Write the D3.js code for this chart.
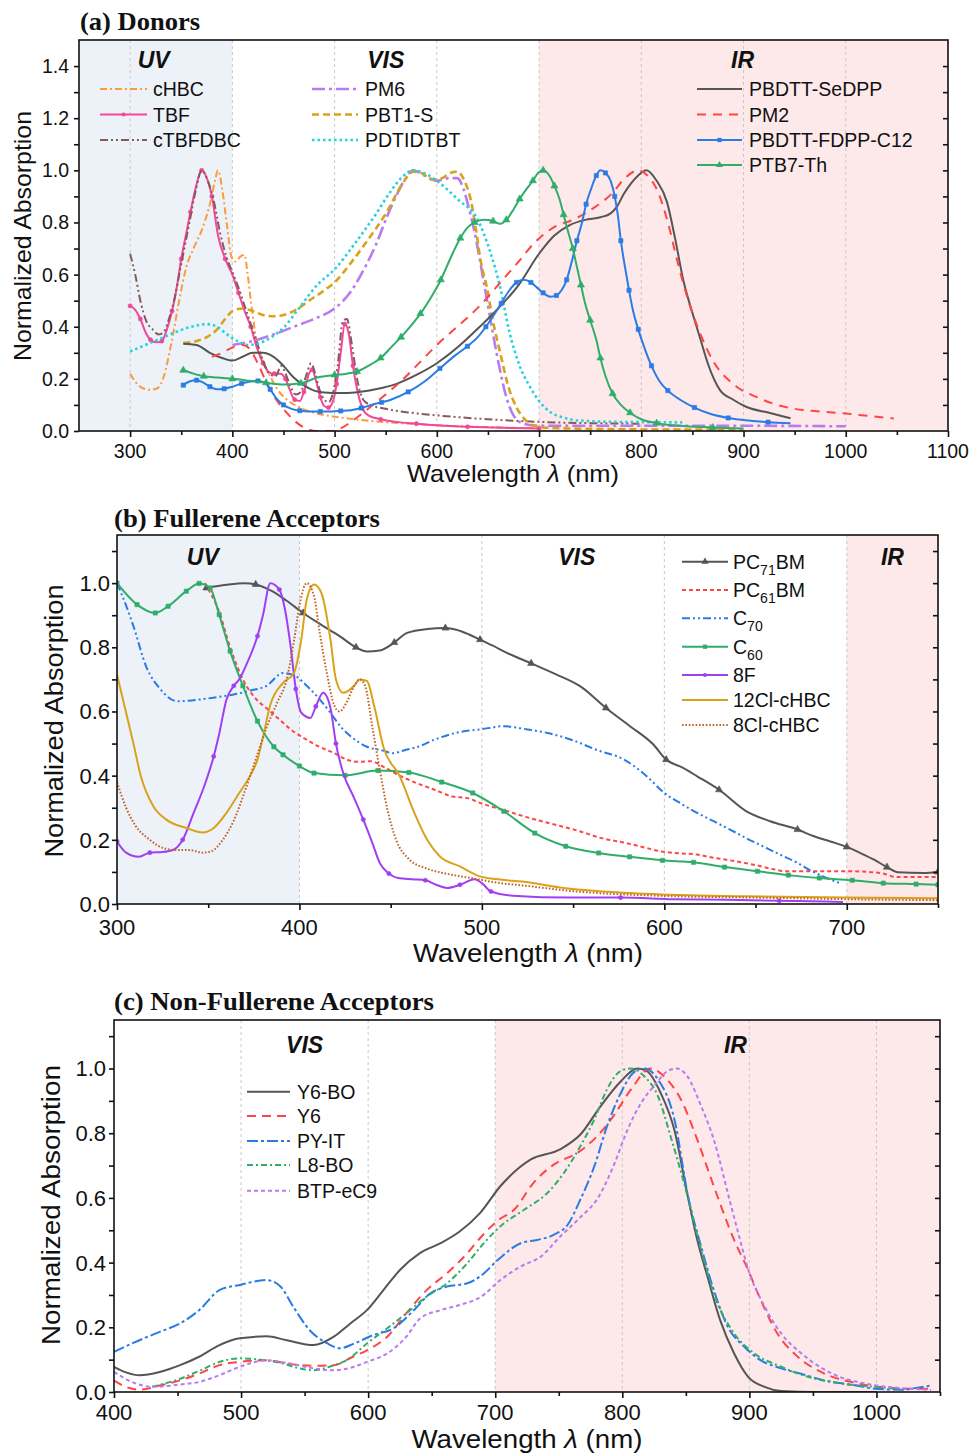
<!DOCTYPE html>
<html>
<head>
<meta charset="utf-8">
<script src="https://cdn.jsdelivr.net/npm/d3@7"></script>
<style>
body { margin: 0; background: #fff; }
text { fill: #111; }
</style>
</head>
<body>
<svg id="fig" width="971" height="1456"></svg>
<script>
// ---------- panel (a) donors : [wavelength nm, normalized absorption] ----------
const cHBC = [[300,0.22],[305,0.19],[312,0.165],[320,0.158],[327,0.165],[333,0.21],[340,0.33],[348,0.5],[355,0.63],[362,0.7],[370,0.77],[378,0.87],[383,0.96],[386,1.0],[390,0.93],[395,0.78],[399,0.67],[403,0.65],[408,0.67],[412,0.675],[415,0.6],[419,0.47],[424,0.34],[430,0.27],[437,0.21],[445,0.155],[455,0.115],[466,0.09],[480,0.07],[500,0.055],[520,0.045],[545,0.035],[575,0.028],[600,0.022],[650,0.015],[700,0.01]];
const TBF = [[300,0.48],[305,0.465],[310,0.43],[315,0.38],[320,0.35],[326,0.34],[331,0.345],[336,0.39],[341,0.46],[346,0.56],[350,0.66],[355,0.76],[359,0.84],[364,0.93],[370,1.0],[375,0.97],[380,0.9],[386,0.75],[393,0.66],[400,0.6],[406,0.53],[412,0.46],[418,0.4],[424,0.32],[430,0.26],[436,0.225],[441,0.22],[447,0.22],[452,0.2],[456,0.16],[461,0.12],[466,0.115],[470,0.15],[475,0.22],[478,0.235],[482,0.19],[486,0.13],[490,0.095],[494,0.09],[498,0.11],[502,0.18],[506,0.3],[510,0.41],[514,0.37],[518,0.25],[522,0.16],[527,0.09],[533,0.06],[545,0.045],[560,0.035],[580,0.028],[600,0.022],[630,0.016],[665,0.012],[700,0.01]];
const cTBFDBC = [[300,0.68],[305,0.6],[310,0.5],[316,0.42],[322,0.39],[328,0.37],[333,0.38],[338,0.43],[343,0.5],[348,0.6],[353,0.7],[358,0.8],[364,0.92],[370,1.0],[376,0.96],[382,0.88],[388,0.76],[394,0.67],[400,0.61],[406,0.55],[412,0.48],[418,0.41],[424,0.34],[430,0.27],[436,0.22],[442,0.21],[448,0.25],[452,0.22],[457,0.17],[462,0.14],[467,0.15],[472,0.21],[477,0.26],[481,0.22],[486,0.15],[490,0.12],[494,0.11],[498,0.14],[503,0.25],[508,0.42],[512,0.43],[517,0.33],[522,0.2],[528,0.12],[535,0.1],[550,0.085],[575,0.07],[600,0.06],[650,0.045],[700,0.035],[750,0.03],[800,0.028]];
const PM6 = [[400,0.33],[420,0.345],[440,0.37],[460,0.4],[480,0.43],[500,0.47],[515,0.53],[530,0.63],[541,0.72],[551,0.82],[560,0.9],[568,0.96],[577,1.0],[588,0.98],[600,0.96],[612,0.97],[620,0.97],[626,0.93],[631,0.86],[636,0.78],[641,0.68],[646,0.57],[651,0.46],[656,0.35],[662,0.23],[668,0.13],[675,0.06],[685,0.028],[700,0.02],[800,0.02],[900,0.02],[1000,0.018]];
const PBT1S = [[352,0.337],[365,0.345],[375,0.36],[385,0.39],[393,0.43],[400,0.46],[410,0.47],[420,0.46],[430,0.445],[440,0.44],[450,0.445],[460,0.46],[475,0.5],[490,0.54],[500,0.57],[515,0.64],[532,0.73],[551,0.84],[565,0.94],[577,0.995],[585,0.99],[595,0.965],[605,0.97],[613,0.99],[620,0.995],[627,0.96],[633,0.89],[638,0.78],[643,0.65],[649,0.55],[655,0.42],[662,0.3],[670,0.17],[678,0.09],[686,0.045],[694,0.022],[710,0.012],[750,0.008],[800,0.006],[900,0.005]];
const PDTIDTBT = [[300,0.305],[315,0.33],[330,0.355],[345,0.38],[360,0.4],[375,0.41],[385,0.4],[395,0.37],[405,0.345],[415,0.33],[425,0.335],[438,0.36],[451,0.4],[465,0.47],[483,0.56],[500,0.62],[520,0.72],[540,0.83],[555,0.92],[565,0.97],[577,1.0],[590,0.985],[600,0.96],[620,0.89],[640,0.81],[652,0.69],[662,0.55],[671,0.38],[681,0.25],[691,0.17],[700,0.115],[710,0.075],[725,0.05],[740,0.04],[775,0.035],[840,0.033]];
const SeDPP = [[352,0.335],[365,0.33],[378,0.3],[390,0.28],[400,0.27],[410,0.285],[420,0.3],[430,0.3],[440,0.285],[450,0.25],[460,0.205],[470,0.175],[480,0.155],[490,0.148],[505,0.146],[520,0.148],[540,0.16],[560,0.18],[580,0.215],[600,0.26],[620,0.32],[642,0.4],[660,0.47],[680,0.56],[700,0.68],[715,0.75],[730,0.79],[745,0.81],[760,0.82],[770,0.835],[776,0.86],[783,0.91],[790,0.95],[797,0.98],[805,1.0],[815,0.96],[825,0.88],[833,0.74],[841,0.58],[851,0.44],[858,0.35],[865,0.26],[871,0.2],[877,0.157],[890,0.12],[903,0.092],[925,0.07],[946,0.049]];
const PM2 = [[380,0.285],[390,0.3],[400,0.32],[410,0.33],[418,0.31],[426,0.25],[434,0.18],[443,0.12],[452,0.075],[462,0.035],[472,0.01],[482,0.0],[497,0.0],[506,0.01],[516,0.035],[528,0.07],[542,0.115],[556,0.16],[570,0.21],[585,0.27],[600,0.33],[620,0.4],[642,0.48],[660,0.56],[680,0.65],[695,0.72],[716,0.785],[733,0.81],[755,0.86],[771,0.91],[784,0.97],[797,1.0],[806,0.98],[816,0.92],[826,0.8],[836,0.64],[846,0.5],[857,0.38],[870,0.27],[890,0.18],[913,0.13],[943,0.09],[1000,0.067],[1047,0.048]];
const FDPP = [[352,0.176],[358,0.19],[365,0.195],[372,0.185],[378,0.17],[385,0.16],[392,0.162],[400,0.17],[409,0.182],[418,0.19],[425,0.192],[432,0.185],[437,0.16],[443,0.125],[450,0.1],[458,0.085],[466,0.078],[474,0.075],[486,0.075],[497,0.075],[506,0.077],[516,0.08],[526,0.088],[536,0.1],[546,0.11],[555,0.12],[572,0.15],[588,0.19],[603,0.24],[618,0.29],[630,0.325],[640,0.36],[648,0.4],[655,0.44],[663,0.49],[671,0.54],[678,0.57],[685,0.58],[692,0.57],[698,0.55],[704,0.53],[711,0.515],[717,0.52],[722,0.54],[727,0.58],[732,0.65],[737,0.73],[742,0.8],[746,0.87],[751,0.93],[756,0.98],[760,1.0],[765,0.99],[770,0.96],[774,0.9],[777,0.83],[780,0.73],[784,0.63],[788,0.54],[792,0.46],[797,0.39],[803,0.32],[810,0.25],[818,0.19],[826,0.155],[838,0.12],[852,0.09],[868,0.065],[885,0.05],[905,0.04],[924,0.034],[946,0.03]];
const PTB7Th = [[352,0.233],[362,0.22],[372,0.21],[386,0.205],[400,0.2],[416,0.193],[433,0.185],[450,0.178],[467,0.183],[483,0.205],[500,0.215],[512,0.22],[522,0.228],[533,0.25],[545,0.28],[555,0.32],[565,0.36],[575,0.405],[584,0.45],[594,0.51],[604,0.58],[613,0.66],[623,0.74],[630,0.78],[637,0.8],[646,0.81],[655,0.805],[662,0.795],[668,0.81],[675,0.85],[681,0.89],[688,0.93],[694,0.96],[699,0.99],[704,1.0],[710,0.98],[715,0.94],[720,0.89],[724,0.83],[728,0.77],[733,0.7],[737,0.63],[741,0.56],[745,0.49],[750,0.425],[756,0.35],[760,0.28],[765,0.21],[772,0.143],[780,0.1],[789,0.07],[800,0.045],[815,0.03],[838,0.02],[870,0.013],[900,0.01]];

// ---------- panel (b) fullerene acceptors ----------
const PC71BM = [[349,0.985],[360,0.995],[370,1.0],[376,0.996],[385,0.975],[393,0.945],[402,0.907],[412,0.87],[422,0.835],[431,0.8],[437,0.787],[444,0.79],[452,0.815],[459,0.845],[470,0.857],[480,0.86],[486,0.855],[493,0.84],[499,0.824],[506,0.805],[514,0.782],[527,0.75],[541,0.715],[554,0.678],[568,0.611],[581,0.555],[594,0.497],[601,0.45],[610,0.425],[618,0.398],[630,0.356],[645,0.289],[658,0.258],[673,0.232],[682,0.211],[691,0.195],[700,0.178],[707,0.16],[715,0.138],[722,0.115],[728,0.099],[742,0.097],[750,0.1]];
const PC61BM = [[348,1.0],[356,0.91],[362,0.8],[369,0.7],[376,0.64],[382,0.61],[389,0.575],[395,0.545],[403,0.515],[411,0.49],[419,0.47],[426,0.45],[432,0.443],[439,0.445],[447,0.425],[455,0.4],[465,0.375],[474,0.356],[484,0.335],[492,0.33],[499,0.315],[514,0.289],[525,0.27],[536,0.253],[545,0.24],[554,0.226],[565,0.206],[579,0.19],[590,0.175],[598,0.164],[608,0.158],[618,0.154],[626,0.145],[634,0.138],[642,0.13],[651,0.12],[660,0.108],[667,0.102],[685,0.102],[700,0.102],[712,0.1],[720,0.095],[727,0.084],[740,0.084],[750,0.084]];
const C70 = [[300,1.0],[305,0.93],[309,0.866],[316,0.74],[324,0.668],[333,0.632],[345,0.637],[355,0.645],[364,0.653],[373,0.665],[382,0.68],[391,0.72],[398,0.71],[404,0.68],[410,0.645],[417,0.596],[423,0.55],[428,0.523],[437,0.49],[446,0.478],[451,0.47],[458,0.48],[465,0.49],[474,0.512],[487,0.535],[499,0.544],[512,0.554],[524,0.545],[536,0.533],[550,0.51],[563,0.48],[578,0.45],[590,0.4],[600,0.346],[610,0.31],[618,0.284],[627,0.258],[636,0.232],[645,0.205],[654,0.18],[663,0.155],[673,0.128],[680,0.105],[687,0.086],[697,0.063]];
const C60 = [[300,1.0],[311,0.933],[321,0.907],[328,0.928],[338,0.975],[345,0.999],[351,0.985],[356,0.902],[362,0.788],[369,0.68],[377,0.57],[386,0.49],[391,0.465],[400,0.43],[408,0.408],[425,0.401],[443,0.416],[460,0.41],[478,0.38],[495,0.346],[512,0.289],[529,0.221],[546,0.18],[564,0.159],[581,0.147],[599,0.136],[616,0.13],[633,0.115],[651,0.102],[668,0.09],[685,0.081],[703,0.074],[720,0.065],[738,0.062],[750,0.06]];
const F8 = [[300,0.195],[305,0.16],[312,0.147],[318,0.16],[325,0.162],[331,0.169],[336,0.2],[342,0.284],[348,0.37],[353,0.46],[356,0.53],[360,0.637],[364,0.68],[367,0.7],[372,0.76],[377,0.835],[380,0.9],[384,1.0],[389,0.98],[392,0.92],[395,0.81],[398,0.67],[401,0.596],[406,0.58],[409,0.616],[413,0.658],[417,0.611],[420,0.5],[424,0.408],[430,0.33],[435,0.263],[440,0.19],[444,0.128],[449,0.095],[454,0.081],[462,0.077],[469,0.074],[475,0.06],[481,0.05],[488,0.06],[496,0.077],[500,0.065],[505,0.039],[517,0.026],[548,0.02],[576,0.02],[605,0.015],[634,0.013],[663,0.01],[693,0.007],[698,0.006]];
const Cl12cHBC = [[300,0.715],[305,0.596],[309,0.5],[313,0.4],[320,0.304],[327,0.263],[338,0.237],[347,0.223],[353,0.237],[360,0.284],[367,0.346],[373,0.4],[377,0.45],[380,0.52],[384,0.62],[391,0.689],[397,0.72],[401,0.824],[404,0.949],[408,0.996],[412,0.97],[417,0.824],[420,0.7],[424,0.658],[430,0.68],[433,0.7],[437,0.695],[441,0.616],[446,0.49],[455,0.398],[463,0.284],[470,0.2],[477,0.148],[488,0.117],[499,0.086],[510,0.076],[522,0.07],[545,0.05],[590,0.032],[645,0.024],[700,0.02],[750,0.018]];
const Cl8cHBC = [[300,0.38],[305,0.3],[310,0.245],[318,0.2],[325,0.175],[333,0.168],[340,0.168],[347,0.16],[352,0.165],[358,0.2],[364,0.26],[370,0.35],[376,0.45],[382,0.55],[388,0.63],[393,0.7],[397,0.82],[400,0.93],[404,1.0],[408,0.96],[411,0.85],[415,0.72],[419,0.62],[422,0.6],[426,0.63],[430,0.68],[433,0.7],[436,0.68],[440,0.55],[444,0.42],[448,0.3],[453,0.2],[460,0.14],[470,0.11],[480,0.095],[495,0.08],[510,0.065],[522,0.058],[550,0.04],[600,0.025],[650,0.02],[700,0.015],[750,0.012]];

// ---------- panel (c) non-fullerene acceptors ----------
const Y6BO = [[400,0.078],[410,0.06],[420,0.052],[436,0.062],[452,0.083],[467,0.109],[483,0.145],[499,0.166],[520,0.172],[536,0.16],[557,0.145],[573,0.171],[586,0.212],[599,0.253],[612,0.315],[625,0.377],[641,0.43],[657,0.46],[672,0.496],[688,0.553],[704,0.636],[728,0.719],[751,0.75],[767,0.796],[783,0.884],[798,0.957],[812,1.0],[820,0.99],[830,0.926],[841,0.81],[851,0.615],[859,0.47],[867,0.357],[877,0.222],[888,0.119],[899,0.047],[912,0.016],[925,0.003],[950,0.0],[1000,0.0]];
const Y6 = [[400,0.035],[410,0.015],[420,0.007],[436,0.02],[452,0.036],[467,0.057],[483,0.083],[499,0.093],[520,0.098],[536,0.088],[557,0.081],[573,0.083],[588,0.109],[599,0.129],[615,0.171],[630,0.243],[646,0.315],[662,0.367],[678,0.429],[689,0.48],[702,0.53],[715,0.564],[730,0.646],[746,0.703],[765,0.74],[780,0.79],[793,0.853],[807,0.936],[822,1.0],[835,0.967],[846,0.905],[859,0.78],[872,0.636],[888,0.47],[899,0.377],[909,0.284],[922,0.181],[938,0.109],[959,0.057],[983,0.028],[1001,0.016],[1020,0.01],[1043,0.01]];
const PYIT = [[400,0.124],[420,0.16],[436,0.186],[452,0.212],[467,0.253],[483,0.315],[499,0.331],[520,0.346],[531,0.326],[541,0.264],[554,0.191],[568,0.15],[578,0.135],[589,0.15],[604,0.176],[620,0.197],[636,0.253],[649,0.305],[662,0.326],[678,0.336],[689,0.36],[702,0.408],[720,0.46],[733,0.47],[746,0.486],[757,0.517],[767,0.595],[778,0.698],[788,0.822],[799,0.926],[809,0.988],[817,1.0],[828,0.967],[841,0.843],[852,0.6],[862,0.45],[872,0.315],[883,0.202],[896,0.14],[909,0.098],[925,0.073],[940,0.057],[959,0.036],[983,0.021],[999,0.01],[1020,0.007],[1030,0.012],[1043,0.02]];
const L8BO = [[430,0.016],[452,0.041],[468,0.067],[483,0.093],[499,0.104],[515,0.1],[531,0.09],[546,0.073],[557,0.067],[573,0.083],[583,0.098],[599,0.15],[615,0.197],[630,0.243],[646,0.295],[662,0.336],[678,0.398],[691,0.46],[704,0.512],[723,0.564],[741,0.615],[754,0.677],[767,0.76],[778,0.843],[788,0.936],[799,0.993],[807,1.0],[817,0.977],[828,0.915],[838,0.79],[849,0.64],[862,0.44],[872,0.305],[888,0.181],[904,0.119],[925,0.078],[946,0.047],[972,0.026],[999,0.016],[1020,0.01]];
const BTPeC9 = [[400,0.062],[414,0.031],[431,0.016],[452,0.023],[467,0.031],[483,0.052],[499,0.078],[520,0.098],[536,0.09],[557,0.073],[573,0.067],[589,0.078],[599,0.093],[615,0.119],[630,0.171],[641,0.228],[657,0.253],[672,0.269],[689,0.295],[704,0.346],[720,0.388],[736,0.419],[751,0.48],[767,0.54],[780,0.595],[793,0.698],[804,0.81],[815,0.895],[825,0.946],[836,0.993],[843,1.0],[851,0.977],[862,0.884],[872,0.78],[884,0.6],[892,0.48],[899,0.38],[912,0.264],[925,0.181],[941,0.119],[965,0.057],[991,0.026],[1017,0.013],[1043,0.007]];

// ---------- ticks ----------
const xTicksA = [300,400,500,600,700,800,900,1000,1100];
const xMinorA = [350,450,550,650,750,850,950,1050];
const yTicksA = [0,0.2,0.4,0.6,0.8,1.0,1.2,1.4];
const yMinorA = [0.1,0.3,0.5,0.7,0.9,1.1,1.3];
const xTicksB = [300,400,500,600,700];
const xMinorB = [350,450,550,650,750];
const xTicksC = [400,500,600,700,800,900,1000];
const xMinorC = [450,550,650,750,850,950,1050];
const yTicksBC = [0,0.2,0.4,0.6,0.8,1.0];
const yMinorBC = [0.1,0.3,0.5,0.7,0.9,1.1];

const SANS = "'Liberation Sans', Arial, sans-serif";
const SERIF = "'Liberation Serif', 'Times New Roman', serif";
const BLUE_BG = "#edf2f9", PINK_BG = "#fde9ea";
const GRAY = "#555555", RED = "#ff4545", BLUEL = "#2a7be4", GREEN = "#2fad69",
      PURPLE = "#b77cf0", GOLD = "#daa21a", ORANGE = "#fb9a3f", PINK = "#f2479b",
      BROWN = "#875a58", CYAN = "#22d2dd", VIOLET = "#a03ff2", RUST = "#c0652a";

const svg = d3.select("#fig").style("font-family", SANS);

const panels = [
  {id:"a", left:79, top:40, right:948, bottom:431, xDomain:[250,1100], yDomain:[0,1.5],
   xMajor:xTicksA, xMinor:xMinorA, yMajor:yTicksA, yMinor:yMinorA, rightTicks:yTicksA.concat(yMinorA).filter(v=>v>0),
   tickFont:19.5, xTickY:458, yTickRight:69,
   bands:[[250,400,BLUE_BG],[700,1100,PINK_BG]], grid:[300,400,500,600,700,800,900,1000],
   regions:[["UV",323],["VIS",550],["IR",899]], regionY:68,
   title:"(a) Donors", titleX:80, titleY:30, titleLen:120,
   yTitle:[22,236,250,24], xTitle:[513,482,212,24],
   series:[
     {label:"cHBC", data:cHBC, color:ORANGE, dash:"7,3,2,3", w:2, lg:[100,147,153,89]},
     {label:"TBF", data:TBF, color:PINK, w:2, marker:"circle", step:2, lg:[100,147,153,114.5]},
     {label:"cTBFDBC", data:cTBFDBC, color:BROWN, dash:"8,3,2,3,2,3", w:2, lg:[100,147,153,140]},
     {label:"PM6", data:PM6, color:PURPLE, dash:"13,4,3,4", w:2.6, lg:[312,358,365,89]},
     {label:"PBT1-S", data:PBT1S, color:GOLD, dash:"7,4", w:2.6, lg:[312,358,365,114.5]},
     {label:"PDTIDTBT", data:PDTIDTBT, color:CYAN, dash:"2.5,3", w:2.6, lg:[312,358,365,140]},
     {label:"PBDTT-SeDPP", data:SeDPP, color:GRAY, w:2, lg:[697,742,749,89]},
     {label:"PM2", data:PM2, color:RED, dash:"9,7", w:2, lg:[697,742,749,114.5]},
     {label:"PBDTT-FDPP-C12", data:FDPP, color:BLUEL, w:2, marker:"square", step:2, lg:[697,742,749,140]},
     {label:"PTB7-Th", data:PTB7Th, color:GREEN, w:2, marker:"triangle", step:2, lg:[697,742,749,165]}
   ]},
  {id:"b", left:117, top:535, right:938, bottom:904, xDomain:[300,750], yDomain:[0,1.15],
   xMajor:xTicksB, xMinor:xMinorB, yMajor:yTicksBC, yMinor:yMinorBC, rightTicks:yTicksBC.concat(yMinorBC).filter(v=>v>0),
   tickFont:22, xTickY:935, yTickRight:110,
   bands:[[300,400,BLUE_BG],[700,750,PINK_BG]], grid:[400,500,600,700],
   regions:[["UV",347],["VIS",552],["IR",725]], regionY:565,
   title:"(b) Fullerene Acceptors", titleX:114, titleY:527, titleLen:266,
   yTitle:[54,721,273,26], xTitle:[528,962,230,26],
   series:[
     {label:"PC_{71}BM", data:PC71BM, color:GRAY, w:2, marker:"triangle", step:3, lg:[682,728,733,561.7]},
     {label:"PC_{61}BM", data:PC61BM, color:RED, dash:"4,3", w:2, lg:[682,728,733,590]},
     {label:"C_{70}", data:C70, color:BLUEL, dash:"8,3,2,3,2,3", w:2, lg:[682,728,733,618.3]},
     {label:"C_{60}", data:C60, color:GREEN, w:2, marker:"square", step:1, lg:[682,728,733,646.7]},
     {label:"8F", data:F8, color:VIOLET, w:2, marker:"circle", step:3, lg:[682,728,733,675]},
     {label:"12Cl-cHBC", data:Cl12cHBC, color:GOLD, w:2, lg:[682,728,733,700]},
     {label:"8Cl-cHBC", data:Cl8cHBC, color:RUST, dash:"1.6,1.8", w:2, lg:[682,728,733,725]}
   ]},
  {id:"c", left:114, top:1020, right:940, bottom:1392, xDomain:[400,1050], yDomain:[0,1.15],
   xMajor:xTicksC, xMinor:xMinorC, yMajor:yTicksBC, yMinor:yMinorBC, rightTicks:yTicksBC.concat(yMinorBC).filter(v=>v>0),
   tickFont:22, xTickY:1420, yTickRight:106,
   bands:[[700,1050,PINK_BG]], grid:[500,600,700,800,900,1000],
   regions:[["VIS",550],["IR",889]], regionY:1053,
   title:"(c) Non-Fullerene Acceptors", titleX:114, titleY:1010, titleLen:320,
   yTitle:[51,1205,280,26], xTitle:[527,1448,231,26],
   series:[
     {label:"Y6-BO", data:Y6BO, color:GRAY, w:2, lg:[247,290,297,1091.7]},
     {label:"Y6", data:Y6, color:RED, dash:"9,6", w:2, lg:[247,290,297,1116]},
     {label:"PY-IT", data:PYIT, color:BLUEL, dash:"11,3,3,3", w:2, lg:[247,290,297,1141]},
     {label:"L8-BO", data:L8BO, color:GREEN, dash:"6,3,2,3", w:2, lg:[247,290,297,1165]},
     {label:"BTP-eC9", data:BTPeC9, color:PURPLE, dash:"4,3", w:2, lg:[247,290,297,1190.7]}
   ]}
];

const symbolOf = {circle:d3.symbolCircle, square:d3.symbolSquare, triangle:d3.symbolTriangle};
const symbolSize = {circle:14, square:18, triangle:22};

function addLabel(sel, label){
  // "PC_{71}BM" -> PC, subscript 71, BM
  const parts = label.split(/_\{([^}]*)\}/);
  let shift = 0;
  parts.forEach((p,i)=>{
    if(!p) return;
    const ts = sel.append("tspan").text(p);
    if(i%2===1){ ts.attr("dy",6).attr("font-size","0.72em"); shift = 6; }
    else if(shift){ ts.attr("dy",-shift); shift = 0; }
  });
}

function drawPanel(p){
  const x = d3.scaleLinear().domain(p.xDomain).range([p.left,p.right]);
  const y = d3.scaleLinear().domain(p.yDomain).range([p.bottom,p.top]);
  const g = svg.append("g").attr("class","panel-"+p.id);

  // background bands
  g.selectAll("rect.band").data(p.bands).enter().append("rect")
    .attr("x",d=>x(d[0])).attr("y",p.top)
    .attr("width",d=>x(d[1])-x(d[0])).attr("height",p.bottom-p.top)
    .attr("fill",d=>d[2]);

  // dashed vertical grid
  g.selectAll("line.grid").data(p.grid).enter().append("line")
    .attr("x1",d=>x(d)).attr("x2",d=>x(d)).attr("y1",p.top).attr("y2",p.bottom)
    .attr("stroke","#c8c8c8").attr("stroke-width",1).attr("stroke-dasharray","3,3");

  // region labels
  g.selectAll("text.region").data(p.regions).enter().append("text")
    .attr("x",d=>x(d[1])).attr("y",p.regionY).attr("text-anchor","middle")
    .attr("font-size",23).attr("font-weight","bold").attr("font-style","italic")
    .text(d=>d[0]);

  // clip
  svg.append("clipPath").attr("id","clip-"+p.id).append("rect")
    .attr("x",p.left).attr("y",p.top).attr("width",p.right-p.left).attr("height",p.bottom-p.top);

  const line = d3.line().x(d=>x(d[0])).y(d=>y(d[1])).curve(d3.curveMonotoneX);
  const plot = g.append("g").attr("clip-path","url(#clip-"+p.id+")");

  p.series.forEach(s=>{
    plot.append("path").datum(s.data)
      .attr("fill","none").attr("stroke",s.color).attr("stroke-width",s.w)
      .attr("stroke-dasharray",s.dash||null).attr("stroke-linejoin","round")
      .attr("d",line);
    if(s.marker){
      const sym = d3.symbol().type(symbolOf[s.marker]).size(symbolSize[s.marker]);
      plot.selectAll(null).data(s.data.filter((d,i)=>i%s.step===0)).enter().append("path")
        .attr("d",sym).attr("transform",d=>"translate("+x(d[0])+","+y(d[1])+")")
        .attr("fill",s.color).attr("stroke",s.color).attr("stroke-width",0.6);
    }
  });

  // legend
  p.series.forEach(s=>{
    const [x1,x2,tx,ly] = s.lg;
    g.append("line").attr("x1",x1).attr("x2",x2).attr("y1",ly).attr("y2",ly)
      .attr("stroke",s.color).attr("stroke-width",s.w).attr("stroke-dasharray",s.dash||null);
    if(s.marker){
      g.append("path").attr("d",d3.symbol().type(symbolOf[s.marker]).size(symbolSize[s.marker])())
        .attr("transform","translate("+((x1+x2)/2)+","+ly+")").attr("fill",s.color);
    }
    const t = g.append("text").attr("x",tx).attr("y",ly).attr("dy","0.36em").attr("font-size",19.5);
    addLabel(t, s.label);
  });

  // frame
  g.append("rect").attr("x",p.left).attr("y",p.top).attr("width",p.right-p.left).attr("height",p.bottom-p.top)
    .attr("fill","none").attr("stroke","#111").attr("stroke-width",1.6);

  // bottom ticks (outward)
  g.append("g").attr("transform","translate(0,"+p.bottom+")")
    .call(d3.axisBottom(x).tickValues(p.xMajor).tickSize(6).tickFormat(""))
    .call(a=>a.select(".domain").remove());
  g.append("g").attr("transform","translate(0,"+p.bottom+")")
    .call(d3.axisBottom(x).tickValues(p.xMinor).tickSize(4).tickFormat(""))
    .call(a=>a.select(".domain").remove());
  // left ticks (outward)
  g.append("g").attr("transform","translate("+p.left+",0)")
    .call(d3.axisLeft(y).tickValues(p.yMajor).tickSize(5).tickFormat(""))
    .call(a=>a.select(".domain").remove());
  g.append("g").attr("transform","translate("+p.left+",0)")
    .call(d3.axisLeft(y).tickValues(p.yMinor).tickSize(5).tickFormat(""))
    .call(a=>a.select(".domain").remove());
  // right ticks (inward)
  g.append("g").attr("transform","translate("+p.right+",0)")
    .call(d3.axisLeft(y).tickValues(p.rightTicks).tickSize(5).tickFormat(""))
    .call(a=>a.select(".domain").remove());
  g.selectAll(".tick line").attr("stroke","#111").attr("stroke-width",1.6);

  // tick labels
  g.selectAll("text.xt").data(p.xMajor).enter().append("text")
    .attr("x",d=>x(d)).attr("y",p.xTickY).attr("text-anchor","middle")
    .attr("font-size",p.tickFont).text(d=>d);
  g.selectAll("text.yt").data(p.yMajor).enter().append("text")
    .attr("x",p.yTickRight).attr("y",d=>y(d)).attr("dy","0.36em").attr("text-anchor","end")
    .attr("font-size",p.tickFont).text(d=>d3.format(".1f")(d));

  // axis titles
  const [yx,yy,ylen,ys] = p.yTitle;
  g.append("text").attr("transform","translate("+yx+","+yy+") rotate(-90)")
    .attr("text-anchor","middle").attr("dy","0.36em").attr("font-size",ys)
    .attr("textLength",ylen).attr("lengthAdjust","spacingAndGlyphs")
    .text("Normalized Absorption");
  const [xx,xy,xlen,xs] = p.xTitle;
  const xt = g.append("text").attr("x",xx).attr("y",xy).attr("text-anchor","middle")
    .attr("font-size",xs).attr("textLength",xlen).attr("lengthAdjust","spacingAndGlyphs");
  xt.append("tspan").text("Wavelength ");
  xt.append("tspan").attr("font-style","italic").text("\u03BB");
  xt.append("tspan").text(" (nm)");

  // panel title (serif bold)
  g.append("text").attr("x",p.titleX).attr("y",p.titleY)
    .style("font-family",SERIF).attr("font-weight","bold")
    .attr("font-size",25).attr("textLength",p.titleLen).attr("lengthAdjust","spacingAndGlyphs")
    .text(p.title);
}

panels.forEach(drawPanel);
</script>
</body>
</html>
